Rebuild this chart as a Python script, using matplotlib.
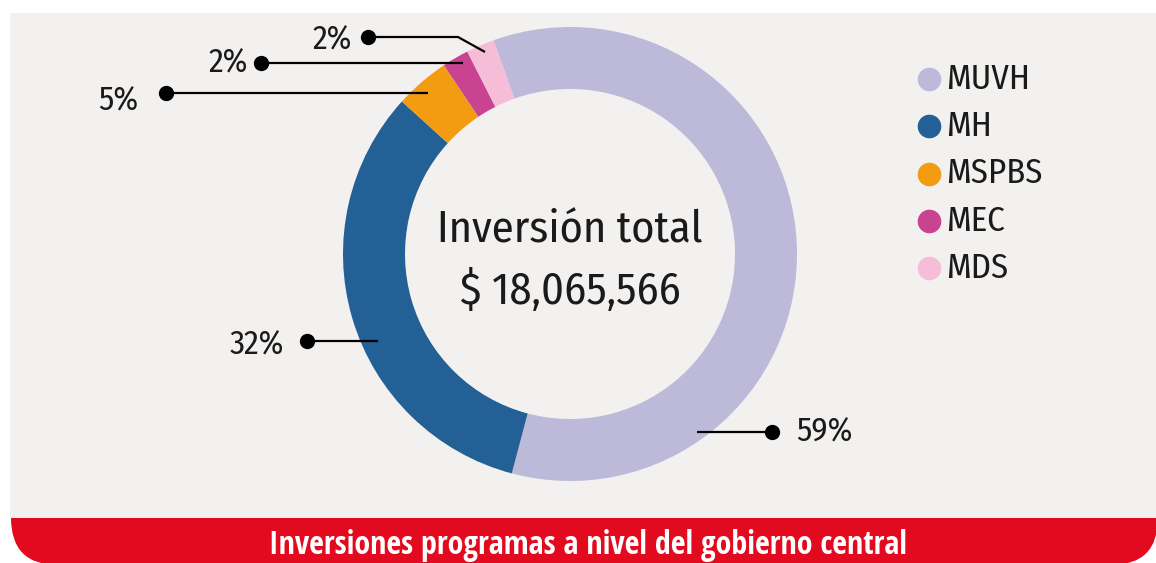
import matplotlib
matplotlib.use("Agg")
import matplotlib.pyplot as plt
from matplotlib.patches import FancyBboxPatch, Rectangle
from matplotlib import font_manager

# data
categories = ["MUVH", "MH", "MSPBS", "MEC", "MDS"]
values = [59.6, 32.6, 3.9, 1.9, 2.0]
pct_labels = ["59%", "32%", "5%", "2%", "2%"]
colors = ["#bdb9d9", "#236096", "#f39c12", "#c84390", "#f5bdd8"]
total_label = "$ 18,065,566"
title = "Inversiones programas a nivel del gobierno central"

# condensed faces: a regular one for labels, a bold one for the banner
regular_faces = {f.name for f in font_manager.fontManager.ttflist if f.weight in (400, "normal", "regular")}
all_faces = {f.name for f in font_manager.fontManager.ttflist}

def pick(cands, pool, default="Liberation Sans"):
    for c in cands:
        if c in pool:
            return c
    return default

body_font = pick(["Fira Sans Condensed", "PT Sans Narrow", "Roboto Condensed",
                  "Archivo Narrow", "Open Sans Condensed"], regular_faces)
title_font = pick(["Open Sans Condensed", "Fira Sans Condensed", "Roboto Condensed"], all_faces)
plt.rcParams["font.family"] = [body_font, "DejaVu Sans"]

W, H = 1156, 563
fig = plt.figure(figsize=(W / 100, H / 100), dpi=100)
ax = fig.add_axes([0, 0, 1, 1])

def Y(y):
    # pixel row (from top) -> axis y
    return H - y

# donut
cx, cy, r = 570, Y(254), 227
ax.pie(values, colors=colors, startangle=109.7, counterclock=False, center=(cx, cy), radius=r,
       wedgeprops=dict(width=62, edgecolor="none"), frame=True)
ax.set_xlim(0, W)
ax.set_ylim(0, H)
ax.set_aspect("auto")
ax.axis("off")

# background panel and red banner (only bottom corners rounded)
ax.add_patch(Rectangle((10, Y(518)), W - 10, 505, facecolor="#f2f1ef", edgecolor="none", zorder=-5))
clip = Rectangle((0, 0), W, Y(518), transform=ax.transData)
banner = FancyBboxPatch((11, Y(565)), W - 9, 95, boxstyle="round,pad=0,rounding_size=47",
                        facecolor="#e30a1f", edgecolor="none", zorder=1)
ax.add_patch(banner)
banner.set_clip_path(clip)
ax.text(588, Y(546), title, color="white", fontsize=23, fontweight="bold",
        family=[title_font, "DejaVu Sans"], ha="center", va="center", zorder=3)

ax.text(cx, Y(231), "Inversión total", fontsize=32, ha="center", va="center", color="#1a1a1a")
ax.text(cx, Y(291), total_label, fontsize=32, ha="center", va="center", color="#1a1a1a")

# leader lines: start inside ring -> optional bend -> dot
leaders = [
    [(697, 432), (772, 432)],
    [(378, 341), (307, 341)],
    [(428, 93), (166, 93)],
    [(463, 63), (261, 63)],
    [(485, 52), (458, 37), (368, 37)],
]
label_pos = [(796, 432, "left"), (284, 345, "right"), (138, 101, "right"), (248, 63, "right"), (352, 40, "right")]
for pts, (lx, ly, ha), txt in zip(leaders, label_pos, pct_labels):
    xs = [p[0] for p in pts]
    ys = [Y(p[1]) for p in pts]
    ax.plot(xs, ys, color="black", lw=1.6, zorder=4, solid_capstyle="butt")
    ax.plot(xs[-1], ys[-1], "o", color="black", ms=10, zorder=5)
    ax.text(lx, Y(ly), txt, fontsize=24, ha=ha, va="center", color="#1a1a1a")

# legend
for i, (name, col) in enumerate(zip(categories, colors)):
    yy = Y(79 + 47.3 * i)
    ax.plot(929, yy, "o", color=col, ms=16, zorder=5)
    ax.text(946, yy, name, fontsize=25, ha="left", va="center", color="#1a1a1a")

fig.savefig("out.png", dpi=100, facecolor="white")
